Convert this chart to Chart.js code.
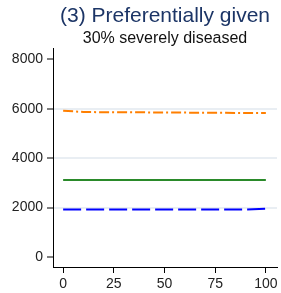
<!DOCTYPE html>
<html>
<head>
<meta charset="utf-8">
<script src="https://cdn.jsdelivr.net/npm/chart.js@4"></script>
<style>
  html, body { margin: 0; padding: 0; background: #fff; }
  #wrap { width: 281px; height: 293px; }
</style>
</head>
<body>
<div id="wrap"><canvas id="chart1"></canvas></div>
<script>
// data
const xs = [0, 10, 20, 30, 40, 50, 60, 70, 80, 90, 100];
const orangeVals = [5920, 5870, 5860, 5860, 5855, 5850, 5845, 5840, 5835, 5830, 5825];
const greenVals = [3120, 3120, 3120, 3120, 3120, 3120, 3120, 3120, 3120, 3120, 3120];
const blueVals = [1920, 1920, 1920, 1920, 1920, 1920, 1920, 1920, 1920, 1925, 1955];
const xTicks = [0, 25, 50, 75, 100];
const yTicks = [0, 2000, 4000, 6000, 8000];

const pts = (vals) => xs.map((x, i) => ({ x: x, y: vals[i] }));

// center the titles over the plot area, like the original
const titleOverPlot = {
  id: "titleOverPlot",
  afterLayout(chart) {
    chart.boxes.forEach((b) => {
      if (b.options && b.options.text !== undefined && b.position === "top") {
        b.left = chart.chartArea.left;
        b.right = chart.chartArea.right;
      }
    });
  },
};

const tickFont = { family: "'Liberation Sans', Arial, sans-serif", size: 14 };

const ctx = document.getElementById("chart1");
new Chart(ctx, {
  type: "line",
  data: {
    datasets: [
      {
        data: pts(orangeVals),
        borderColor: "#ff7f00",
        borderWidth: 2,
        borderDash: [10, 3, 2, 3],
        pointRadius: 0,
        tension: 0,
      },
      {
        data: pts(greenVals),
        borderColor: "#2a8a2a",
        borderWidth: 2,
        pointRadius: 0,
        tension: 0,
      },
      {
        data: pts(blueVals),
        borderColor: "#0000ff",
        borderWidth: 2,
        borderDash: [18, 5],
        pointRadius: 0,
        tension: 0,
      },
    ],
  },
  plugins: [titleOverPlot],
  options: {
    responsive: true,
    maintainAspectRatio: false,
    animation: false,
    layout: { padding: { left: 0, right: 4, top: 0, bottom: 0 } },
    plugins: {
      legend: { display: false },
      tooltip: { enabled: false },
      title: {
        display: true,
        text: "(3) Preferentially given",
        color: "#1c3566",
        font: { family: "'Liberation Sans', Arial, sans-serif", size: 21, weight: "normal", lineHeight: 1.2 },
        padding: { top: 4, bottom: 0 },
      },
      subtitle: {
        display: true,
        text: "30% severely diseased",
        color: "#111",
        font: { family: "'Liberation Sans', Arial, sans-serif", size: 16, weight: "normal", lineHeight: 1.2 },
        padding: { top: 0, bottom: 0 },
      },
    },
    scales: {
      x: {
        type: "linear",
        min: -5,
        max: 105.5,
        afterBuildTicks: (scale) => {
          scale.ticks = xTicks.map((v) => ({ value: v }));
        },
        afterFit: (scale) => {
          scale.height = 26;
        },
        border: { display: true, color: "#000", width: 1 },
        grid: {
          drawOnChartArea: false,
          tickLength: 6,
          tickColor: "#000",
          tickWidth: 1,
        },
        ticks: { color: "#222", font: tickFont, padding: 3, maxRotation: 0, callback: (v) => String(v) },
      },
      y: {
        type: "linear",
        min: -404,
        max: 8444,
        afterBuildTicks: (scale) => {
          scale.ticks = yTicks.map((v) => ({ value: v }));
        },
        afterFit: (scale) => {
          scale.width = 53;
        },
        border: { display: true, color: "#000", width: 1 },
        grid: {
          tickLength: 6,
          tickColor: "#000",
          tickWidth: 1,
          lineWidth: 2,
          color: (c) =>
            c.tick && (c.tick.value === 0 || c.tick.value === 8000) ? "rgba(0,0,0,0)" : "#e9eef3",
        },
        ticks: { color: "#222", font: tickFont, padding: 4, callback: (v) => String(v) },
      },
    },
  },
});
</script>
</body>
</html>
